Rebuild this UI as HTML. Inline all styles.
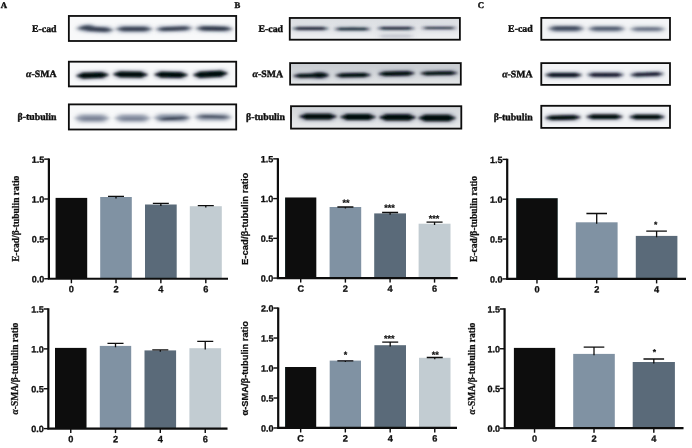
<!DOCTYPE html>
<html><head><meta charset="utf-8"><title>Figure</title>
<style>
html,body{margin:0;padding:0;background:#fff;}
body{width:692px;height:448px;overflow:hidden;}
svg{display:block;}
</style></head><body>
<svg width="692" height="448" viewBox="0 0 692 448">
<defs>
<linearGradient id="gB1" x1="0" y1="0" x2="0" y2="1"><stop offset="0" stop-color="#dadde1"/><stop offset="1" stop-color="#eff0f2"/></linearGradient>
<linearGradient id="gB2" x1="0" y1="0" x2="0" y2="1"><stop offset="0" stop-color="#c6cacf"/><stop offset="1" stop-color="#e4e6e8"/></linearGradient>
<linearGradient id="gB3" x1="0" y1="0" x2="0" y2="1"><stop offset="0" stop-color="#d2d5d9"/><stop offset="1" stop-color="#e8eaec"/></linearGradient>
<filter id="b08" x="-20%" y="-200%" width="140%" height="500%"><feGaussianBlur stdDeviation="1.3 0.65"/></filter>
<filter id="b10" x="-20%" y="-200%" width="140%" height="500%"><feGaussianBlur stdDeviation="1.6 0.9"/></filter>
<filter id="b12" x="-20%" y="-200%" width="140%" height="500%"><feGaussianBlur stdDeviation="1.8 1.1"/></filter>
<filter id="b15" x="-20%" y="-200%" width="140%" height="500%"><feGaussianBlur stdDeviation="2.0 1.3"/></filter>
<filter id="halo" x="-20%" y="-300%" width="140%" height="700%"><feGaussianBlur stdDeviation="2.6 1.8"/></filter>
<filter id="soft"><feGaussianBlur stdDeviation="0.35"/></filter>
</defs>
<rect width="692" height="448" fill="#fff"/>
<g filter="url(#soft)">
<text transform="translate(0.8 8.1) rotate(0.3)" font-family='"Liberation Serif", serif' font-weight="bold" font-size="8.7" text-anchor="start" fill="#111" stroke="#111" stroke-width="0.4">A</text>
<text transform="translate(234.5 8.1) rotate(0.3)" font-family='"Liberation Serif", serif' font-weight="bold" font-size="8.7" text-anchor="start" fill="#111" stroke="#111" stroke-width="0.4">B</text>
<text transform="translate(477.8 8.1) rotate(0.3)" font-family='"Liberation Serif", serif' font-weight="bold" font-size="8.7" text-anchor="start" fill="#111" stroke="#111" stroke-width="0.4">C</text>
<clipPath id="c68_15"><rect x="68.85" y="15.95" width="167.35" height="25.05"/></clipPath>
<rect x="68.85" y="15.95" width="167.35" height="25.05" fill="#f8f9fa"/>
<g clip-path="url(#c68_15)">

<g filter="url(#halo)">
<rect x="82.5" y="25.25" width="30" height="8.1" rx="4.05" fill="#6a7690" opacity="0.40" transform="rotate(3 97.5 29.3)"/>
<rect x="77.5" y="23.85" width="16" height="7.5" rx="3.75" fill="#6a7690" opacity="0.36" transform="rotate(-8 85.5 27.6)"/>
<rect x="116.5" y="24.85" width="35" height="8.3" rx="4.15" fill="#6a7690" opacity="0.40"/>
<rect x="156.5" y="24.849999999999998" width="35" height="7.7" rx="3.85" fill="#6a7690" opacity="0.40" transform="rotate(-2 174.0 28.7)"/>
<rect x="196.5" y="24.650000000000002" width="35" height="7.9" rx="3.95" fill="#6a7690" opacity="0.41" transform="rotate(1 214.0 28.6)"/>
</g>
<g filter="url(#b15)">
<ellipse cx="97.5" cy="29.3" rx="15.00" ry="1.84" fill="#3a4354" opacity="0.88" transform="rotate(3 97.5 29.3)"/>
<rect x="86.5" y="27.14" width="22" height="4.32" rx="2.16" fill="#3a4354" opacity="0.88" transform="rotate(3 97.5 29.3)"/>
<ellipse cx="85.5" cy="27.6" rx="8.00" ry="1.60" fill="#3a4354" opacity="0.8" transform="rotate(-8 85.5 27.6)"/>
<rect x="81.5" y="25.72" width="8" height="3.76" rx="1.88" fill="#3a4354" opacity="0.8" transform="rotate(-8 85.5 27.6)"/>
<ellipse cx="134.0" cy="29.0" rx="17.50" ry="1.92" fill="#3a4354" opacity="0.88"/>
<rect x="120.5" y="26.74" width="27" height="4.51" rx="2.26" fill="#3a4354" opacity="0.88"/>
<ellipse cx="174.0" cy="28.7" rx="17.50" ry="1.68" fill="#3a4354" opacity="0.88" transform="rotate(-2 174.0 28.7)"/>
<rect x="160.5" y="26.73" width="27" height="3.95" rx="1.97" fill="#3a4354" opacity="0.88" transform="rotate(-2 174.0 28.7)"/>
<ellipse cx="214.0" cy="28.6" rx="17.50" ry="1.76" fill="#343c4c" opacity="0.92" transform="rotate(1 214.0 28.6)"/>
<rect x="200.5" y="26.53" width="27" height="4.14" rx="2.07" fill="#343c4c" opacity="0.92" transform="rotate(1 214.0 28.6)"/>
</g></g>
<rect x="68.85" y="15.95" width="167.35" height="25.05" fill="none" stroke="#0a0a0a" stroke-width="1.8"/>
<clipPath id="c68_61"><rect x="68.85" y="61.7" width="167.35" height="24.700000000000003"/></clipPath>
<rect x="68.85" y="61.7" width="167.35" height="24.700000000000003" fill="#f8f9fa"/>
<g clip-path="url(#c68_61)">

<g filter="url(#halo)">
<rect x="76.5" y="70.55" width="32" height="9.5" rx="4.75" fill="#6a7690" opacity="0.45" transform="rotate(-2 92.5 75.3)"/>
<rect x="113.5" y="69.65" width="34" height="9.7" rx="4.85" fill="#6a7690" opacity="0.45" transform="rotate(1 130.5 74.5)"/>
<rect x="154.5" y="70.05" width="33" height="9.5" rx="4.75" fill="#6a7690" opacity="0.45" transform="rotate(1 171.0 74.8)"/>
<rect x="193.5" y="69.25" width="34" height="9.9" rx="4.95" fill="#6a7690" opacity="0.45" transform="rotate(-3 210.5 74.2)"/>
</g>
<g filter="url(#b12)">
<ellipse cx="92.5" cy="75.3" rx="16.00" ry="2.40" fill="#05080c" opacity="1" transform="rotate(-2 92.5 75.3)"/>
<rect x="80.5" y="72.48" width="24" height="5.64" rx="2.82" fill="#05080c" opacity="1" transform="rotate(-2 92.5 75.3)"/>
<ellipse cx="130.5" cy="74.5" rx="17.00" ry="2.48" fill="#05080c" opacity="1" transform="rotate(1 130.5 74.5)"/>
<rect x="117.5" y="71.59" width="26" height="5.83" rx="2.91" fill="#05080c" opacity="1" transform="rotate(1 130.5 74.5)"/>
<ellipse cx="171.0" cy="74.8" rx="16.50" ry="2.40" fill="#05080c" opacity="1" transform="rotate(1 171.0 74.8)"/>
<rect x="158.5" y="71.98" width="25" height="5.64" rx="2.82" fill="#05080c" opacity="1" transform="rotate(1 171.0 74.8)"/>
<ellipse cx="210.5" cy="74.2" rx="17.00" ry="2.56" fill="#05080c" opacity="1" transform="rotate(-3 210.5 74.2)"/>
<rect x="197.5" y="71.19" width="26" height="6.02" rx="3.01" fill="#05080c" opacity="1" transform="rotate(-3 210.5 74.2)"/>
</g></g>
<rect x="68.85" y="61.7" width="167.35" height="24.700000000000003" fill="none" stroke="#0a0a0a" stroke-width="1.8"/>
<clipPath id="c68_104"><rect x="68.85" y="104.4" width="167.35" height="25.099999999999994"/></clipPath>
<rect x="68.85" y="104.4" width="167.35" height="25.099999999999994" fill="#f8f9fa"/>
<g clip-path="url(#c68_104)">

<g filter="url(#halo)">
<rect x="75.5" y="112.95" width="33" height="10.5" rx="5.25" fill="#8a93a4" opacity="0.34"/>
<rect x="115.5" y="113.15" width="34" height="10.1" rx="5.05" fill="#8a93a4" opacity="0.34"/>
<rect x="154.5" y="112.85" width="35" height="9.9" rx="4.95" fill="#8a93a4" opacity="0.34"/>
<rect x="195.5" y="112.45" width="35" height="9.5" rx="4.75" fill="#8a93a4" opacity="0.32"/>
<rect x="78.5" y="115.75" width="28" height="5.7" rx="2.85" fill="#8a93a4" opacity="0.22"/>
<rect x="118.5" y="115.95" width="29" height="5.7" rx="2.85" fill="#8a93a4" opacity="0.22"/>
<rect x="158.5" y="115.35000000000001" width="30" height="6.1" rx="3.05" fill="#8a93a4" opacity="0.36" transform="rotate(-3 173.5 118.4)"/>
<rect x="197.5" y="113.85" width="32" height="5.9" rx="2.95" fill="#8a93a4" opacity="0.34" transform="rotate(1.5 213.5 116.8)"/>
</g>
<g filter="url(#b15)">
<ellipse cx="92.0" cy="118.2" rx="16.50" ry="2.80" fill="#959eae" opacity="0.85"/>
<rect x="79.5" y="114.91" width="25" height="6.58" rx="3.29" fill="#959eae" opacity="0.85"/>
<ellipse cx="132.5" cy="118.2" rx="17.00" ry="2.64" fill="#959eae" opacity="0.85"/>
<rect x="119.5" y="115.10" width="26" height="6.20" rx="3.10" fill="#959eae" opacity="0.85"/>
<ellipse cx="172.0" cy="117.8" rx="17.50" ry="2.56" fill="#8a94a6" opacity="0.85"/>
<rect x="158.5" y="114.79" width="27" height="6.02" rx="3.01" fill="#8a94a6" opacity="0.85"/>
<ellipse cx="213.0" cy="117.2" rx="17.50" ry="2.40" fill="#959eae" opacity="0.8"/>
<rect x="199.5" y="114.38" width="27" height="5.64" rx="2.82" fill="#959eae" opacity="0.8"/>
<ellipse cx="92.5" cy="118.6" rx="14.00" ry="0.88" fill="#667084" opacity="0.55"/>
<rect x="82.5" y="117.57" width="20" height="2.07" rx="1.03" fill="#667084" opacity="0.55"/>
<ellipse cx="133.0" cy="118.8" rx="14.50" ry="0.88" fill="#667084" opacity="0.55"/>
<rect x="122.5" y="117.77" width="21" height="2.07" rx="1.03" fill="#667084" opacity="0.55"/>
<ellipse cx="173.5" cy="118.4" rx="15.00" ry="1.04" fill="#2a3446" opacity="0.9" transform="rotate(-3 173.5 118.4)"/>
<rect x="162.5" y="117.18" width="22" height="2.44" rx="1.22" fill="#2a3446" opacity="0.9" transform="rotate(-3 173.5 118.4)"/>
<ellipse cx="213.5" cy="116.8" rx="16.00" ry="0.96" fill="#343e50" opacity="0.85" transform="rotate(1.5 213.5 116.8)"/>
<rect x="201.5" y="115.67" width="24" height="2.26" rx="1.13" fill="#343e50" opacity="0.85" transform="rotate(1.5 213.5 116.8)"/>
</g></g>
<rect x="68.85" y="104.4" width="167.35" height="25.099999999999994" fill="none" stroke="#0a0a0a" stroke-width="1.8"/>
<text transform="translate(56.5 32) rotate(0.3)" font-family='"Liberation Serif", serif' font-weight="bold" font-size="9.8" text-anchor="end" fill="#111" stroke="#111" stroke-width="0.4">E-cad</text>
<text transform="translate(56.5 77.1) rotate(0.3)" font-family='"Liberation Serif", serif' font-weight="bold" font-size="9.8" text-anchor="end" fill="#111" stroke="#111" stroke-width="0.4"><tspan font-style="italic">α</tspan>-SMA</text>
<text transform="translate(56.5 120) rotate(0.3)" font-family='"Liberation Serif", serif' font-weight="bold" font-size="9.8" text-anchor="end" fill="#111" stroke="#111" stroke-width="0.4">β-tubulin</text>
<clipPath id="c289_17"><rect x="289.75" y="17.95" width="170.14999999999998" height="21.750000000000004"/></clipPath>
<rect x="289.75" y="17.95" width="170.14999999999998" height="21.750000000000004" fill="url(#gB1)"/>
<g clip-path="url(#c289_17)">

<g filter="url(#halo)">
<rect x="292.5" y="25.4" width="36" height="6.2" rx="3.1" fill="#6a7690" opacity="0.30"/>
<rect x="334.5" y="25.799999999999997" width="36" height="6.2" rx="3.1" fill="#6a7690" opacity="0.29"/>
<rect x="377.5" y="25.15" width="37" height="6.1" rx="3.05" fill="#6a7690" opacity="0.28"/>
<rect x="421.5" y="25.1" width="35" height="5.8" rx="2.9" fill="#6a7690" opacity="0.23"/>
<rect x="377.5" y="32.45" width="37" height="7.5" rx="3.75" fill="#6a7690" opacity="0.05"/>
</g>
<g filter="url(#b10)">
<ellipse cx="310.5" cy="28.5" rx="18.00" ry="1.08" fill="#1a2232" opacity="1"/>
<rect x="296.5" y="27.23" width="28" height="2.54" rx="1.27" fill="#1a2232" opacity="1"/>
<ellipse cx="352.5" cy="28.9" rx="18.00" ry="1.08" fill="#1a2232" opacity="0.97"/>
<rect x="338.5" y="27.63" width="28" height="2.54" rx="1.27" fill="#1a2232" opacity="0.97"/>
<ellipse cx="396.0" cy="28.2" rx="18.50" ry="1.04" fill="#1a2232" opacity="0.92"/>
<rect x="381.5" y="26.98" width="29" height="2.44" rx="1.22" fill="#1a2232" opacity="0.92"/>
<ellipse cx="439.0" cy="28.0" rx="17.50" ry="0.92" fill="#1a2232" opacity="0.78"/>
<rect x="425.5" y="26.92" width="27" height="2.16" rx="1.08" fill="#1a2232" opacity="0.78"/>
<ellipse cx="396.0" cy="36.2" rx="18.50" ry="1.60" fill="#7a8298" opacity="0.16"/>
<rect x="381.5" y="34.32" width="29" height="3.76" rx="1.88" fill="#7a8298" opacity="0.16"/>
</g></g>
<rect x="289.75" y="17.95" width="170.14999999999998" height="21.750000000000004" fill="none" stroke="#0a0a0a" stroke-width="1.8"/>
<clipPath id="c290_63"><rect x="290.1" y="63.1" width="170.7" height="21.499999999999993"/></clipPath>
<rect x="290.1" y="63.1" width="170.7" height="21.499999999999993" fill="url(#gB2)"/>
<g clip-path="url(#c290_63)">

<g filter="url(#halo)">
<rect x="293.5" y="71.94999999999999" width="35" height="7.3" rx="3.65" fill="#6a7690" opacity="0.45" transform="rotate(-1 311.0 75.6)"/>
<rect x="335.5" y="71.45" width="35" height="7.5" rx="3.75" fill="#6a7690" opacity="0.45" transform="rotate(-1 353.0 75.2)"/>
<rect x="378.5" y="69.55" width="36" height="8.1" rx="4.05" fill="#6a7690" opacity="0.45" transform="rotate(-1 396.5 73.6)"/>
<rect x="420.5" y="69.55" width="37" height="7.3" rx="3.65" fill="#6a7690" opacity="0.45" transform="rotate(-1 439.0 73.2)"/>
<rect x="310.5" y="70.95" width="18" height="8.5" rx="4.25" fill="#6a7690" opacity="0.45"/>
</g>
<g filter="url(#b10)">
<ellipse cx="311.0" cy="75.6" rx="17.50" ry="1.52" fill="#05080c" opacity="1" transform="rotate(-1 311.0 75.6)"/>
<rect x="297.5" y="73.81" width="27" height="3.57" rx="1.79" fill="#05080c" opacity="1" transform="rotate(-1 311.0 75.6)"/>
<ellipse cx="353.0" cy="75.2" rx="17.50" ry="1.60" fill="#05080c" opacity="1" transform="rotate(-1 353.0 75.2)"/>
<rect x="339.5" y="73.32" width="27" height="3.76" rx="1.88" fill="#05080c" opacity="1" transform="rotate(-1 353.0 75.2)"/>
<ellipse cx="396.5" cy="73.6" rx="18.00" ry="1.84" fill="#05080c" opacity="1" transform="rotate(-1 396.5 73.6)"/>
<rect x="382.5" y="71.44" width="28" height="4.32" rx="2.16" fill="#05080c" opacity="1" transform="rotate(-1 396.5 73.6)"/>
<ellipse cx="439.0" cy="73.2" rx="18.50" ry="1.52" fill="#05080c" opacity="1" transform="rotate(-1 439.0 73.2)"/>
<rect x="424.5" y="71.41" width="29" height="3.57" rx="1.79" fill="#05080c" opacity="1" transform="rotate(-1 439.0 73.2)"/>
<ellipse cx="319.5" cy="75.2" rx="9.00" ry="2.00" fill="#05080c" opacity="1"/>
<rect x="314.5" y="72.85" width="10" height="4.70" rx="2.35" fill="#05080c" opacity="1"/>
</g></g>
<rect x="290.1" y="63.1" width="170.7" height="21.499999999999993" fill="none" stroke="#0a0a0a" stroke-width="1.8"/>
<clipPath id="c291_106"><rect x="291.0" y="106.2" width="170.3" height="22.39999999999999"/></clipPath>
<rect x="291.0" y="106.2" width="170.3" height="22.39999999999999" fill="url(#gB3)"/>
<g clip-path="url(#c291_106)">

<g filter="url(#halo)">
<rect x="299.5" y="111.75" width="37" height="9.7" rx="4.85" fill="#6a7690" opacity="0.45"/>
<rect x="340.5" y="112.15" width="35" height="9.7" rx="4.85" fill="#6a7690" opacity="0.45"/>
<rect x="379.5" y="112.35000000000001" width="36" height="10.1" rx="5.05" fill="#6a7690" opacity="0.45"/>
<rect x="418.5" y="112.75" width="37" height="10.5" rx="5.25" fill="#6a7690" opacity="0.45"/>
</g>
<g filter="url(#b10)">
<ellipse cx="318.0" cy="116.6" rx="18.50" ry="2.48" fill="#05080c" opacity="1"/>
<rect x="303.5" y="113.69" width="29" height="5.83" rx="2.91" fill="#05080c" opacity="1"/>
<ellipse cx="358.0" cy="117.0" rx="17.50" ry="2.48" fill="#05080c" opacity="1"/>
<rect x="344.5" y="114.09" width="27" height="5.83" rx="2.91" fill="#05080c" opacity="1"/>
<ellipse cx="397.5" cy="117.4" rx="18.00" ry="2.64" fill="#05080c" opacity="1"/>
<rect x="383.5" y="114.30" width="28" height="6.20" rx="3.10" fill="#05080c" opacity="1"/>
<ellipse cx="437.0" cy="118.0" rx="18.50" ry="2.80" fill="#05080c" opacity="1"/>
<rect x="422.5" y="114.71" width="29" height="6.58" rx="3.29" fill="#05080c" opacity="1"/>
</g></g>
<rect x="291.0" y="106.2" width="170.3" height="22.39999999999999" fill="none" stroke="#0a0a0a" stroke-width="1.8"/>
<text transform="translate(283 32) rotate(0.3)" font-family='"Liberation Serif", serif' font-weight="bold" font-size="9.8" text-anchor="end" fill="#111" stroke="#111" stroke-width="0.4">E-cad</text>
<text transform="translate(283 77.2) rotate(0.3)" font-family='"Liberation Serif", serif' font-weight="bold" font-size="9.8" text-anchor="end" fill="#111" stroke="#111" stroke-width="0.4"><tspan font-style="italic">α</tspan>-SMA</text>
<text transform="translate(285 120.1) rotate(0.3)" font-family='"Liberation Serif", serif' font-weight="bold" font-size="9.8" text-anchor="end" fill="#111" stroke="#111" stroke-width="0.4">β-tubulin</text>
<clipPath id="c541_17"><rect x="541.3" y="17.9" width="128.70000000000005" height="21.9"/></clipPath>
<rect x="541.3" y="17.9" width="128.70000000000005" height="21.9" fill="#f3f4f6"/>
<g clip-path="url(#c541_17)">

<g filter="url(#halo)">
<rect x="548.5" y="24.55" width="35" height="8.5" rx="4.25" fill="#7a8498" opacity="0.30"/>
<rect x="588.5" y="24.95" width="36" height="8.1" rx="4.05" fill="#7a8498" opacity="0.28"/>
<rect x="630.5" y="25.349999999999998" width="34" height="7.7" rx="3.85" fill="#7a8498" opacity="0.24"/>
<rect x="549.5" y="24.95" width="33" height="5.7" rx="2.85" fill="#7a8498" opacity="0.26"/>
<rect x="589.5" y="25.35" width="34" height="5.5" rx="2.75" fill="#7a8498" opacity="0.18"/>
<rect x="631.5" y="25.85" width="32" height="5.3" rx="2.65" fill="#7a8498" opacity="0.12"/>
</g>
<g filter="url(#b15)">
<ellipse cx="566.0" cy="28.8" rx="17.50" ry="2.00" fill="#566074" opacity="0.75"/>
<rect x="552.5" y="26.45" width="27" height="4.70" rx="2.35" fill="#566074" opacity="0.75"/>
<ellipse cx="606.5" cy="29.0" rx="18.00" ry="1.84" fill="#626c80" opacity="0.7"/>
<rect x="592.5" y="26.84" width="28" height="4.32" rx="2.16" fill="#626c80" opacity="0.7"/>
<ellipse cx="647.5" cy="29.2" rx="17.00" ry="1.68" fill="#6e788c" opacity="0.6"/>
<rect x="634.5" y="27.23" width="26" height="3.95" rx="1.97" fill="#6e788c" opacity="0.6"/>
<ellipse cx="566.0" cy="27.8" rx="16.50" ry="0.88" fill="#2a3244" opacity="0.65"/>
<rect x="553.5" y="26.77" width="25" height="2.07" rx="1.03" fill="#2a3244" opacity="0.65"/>
<ellipse cx="606.5" cy="28.1" rx="17.00" ry="0.80" fill="#343c50" opacity="0.45"/>
<rect x="593.5" y="27.16" width="26" height="1.88" rx="0.94" fill="#343c50" opacity="0.45"/>
<ellipse cx="647.5" cy="28.5" rx="16.00" ry="0.72" fill="#444c60" opacity="0.3"/>
<rect x="635.5" y="27.65" width="24" height="1.69" rx="0.85" fill="#444c60" opacity="0.3"/>
</g></g>
<rect x="541.3" y="17.9" width="128.70000000000005" height="21.9" fill="none" stroke="#0a0a0a" stroke-width="1.8"/>
<clipPath id="c541_63"><rect x="541.3" y="63.1" width="128.70000000000005" height="21.800000000000004"/></clipPath>
<rect x="541.3" y="63.1" width="128.70000000000005" height="21.800000000000004" fill="#f3f4f6"/>
<g clip-path="url(#c541_63)">

<g filter="url(#halo)">
<rect x="545.5" y="71.15" width="36" height="7.7" rx="3.85" fill="#6a7690" opacity="0.45"/>
<rect x="587.5" y="71.05" width="36" height="7.5" rx="3.75" fill="#6a7690" opacity="0.43"/>
<rect x="630.5" y="70.85000000000001" width="33" height="7.1" rx="3.55" fill="#6a7690" opacity="0.43" transform="rotate(-2 647.0 74.4)"/>
</g>
<g filter="url(#b12)">
<ellipse cx="563.5" cy="75.0" rx="18.00" ry="1.68" fill="#101520" opacity="1"/>
<rect x="549.5" y="73.03" width="28" height="3.95" rx="1.97" fill="#101520" opacity="1"/>
<ellipse cx="605.5" cy="74.8" rx="18.00" ry="1.60" fill="#1a2030" opacity="0.95"/>
<rect x="591.5" y="72.92" width="28" height="3.76" rx="1.88" fill="#1a2030" opacity="0.95"/>
<ellipse cx="647.0" cy="74.4" rx="16.50" ry="1.44" fill="#1a2030" opacity="0.95" transform="rotate(-2 647.0 74.4)"/>
<rect x="634.5" y="72.71" width="25" height="3.38" rx="1.69" fill="#1a2030" opacity="0.95" transform="rotate(-2 647.0 74.4)"/>
</g></g>
<rect x="541.3" y="63.1" width="128.70000000000005" height="21.800000000000004" fill="none" stroke="#0a0a0a" stroke-width="1.8"/>
<clipPath id="c541_105"><rect x="541.3" y="105.8" width="128.70000000000005" height="22.10000000000001"/></clipPath>
<rect x="541.3" y="105.8" width="128.70000000000005" height="22.10000000000001" fill="#f3f4f6"/>
<g clip-path="url(#c541_105)">

<g filter="url(#halo)">
<rect x="545.5" y="113.55" width="35" height="8.1" rx="4.05" fill="#6a7690" opacity="0.45" transform="rotate(-1 563.0 117.6)"/>
<rect x="586.5" y="112.64999999999999" width="36" height="8.3" rx="4.15" fill="#6a7690" opacity="0.45"/>
<rect x="629.5" y="112.95" width="35" height="8.1" rx="4.05" fill="#6a7690" opacity="0.45"/>
</g>
<g filter="url(#b12)">
<ellipse cx="563.0" cy="117.6" rx="17.50" ry="1.84" fill="#05080c" opacity="1" transform="rotate(-1 563.0 117.6)"/>
<rect x="549.5" y="115.44" width="27" height="4.32" rx="2.16" fill="#05080c" opacity="1" transform="rotate(-1 563.0 117.6)"/>
<ellipse cx="604.5" cy="116.8" rx="18.00" ry="1.92" fill="#05080c" opacity="1"/>
<rect x="590.5" y="114.54" width="28" height="4.51" rx="2.26" fill="#05080c" opacity="1"/>
<ellipse cx="647.0" cy="117.0" rx="17.50" ry="1.84" fill="#05080c" opacity="1"/>
<rect x="633.5" y="114.84" width="27" height="4.32" rx="2.16" fill="#05080c" opacity="1"/>
</g></g>
<rect x="541.3" y="105.8" width="128.70000000000005" height="22.10000000000001" fill="none" stroke="#0a0a0a" stroke-width="1.8"/>
<text transform="translate(532.6 31.8) rotate(0.3)" font-family='"Liberation Serif", serif' font-weight="bold" font-size="9.8" text-anchor="end" fill="#111" stroke="#111" stroke-width="0.4">E-cad</text>
<text transform="translate(532.6 77.3) rotate(0.3)" font-family='"Liberation Serif", serif' font-weight="bold" font-size="9.8" text-anchor="end" fill="#111" stroke="#111" stroke-width="0.4"><tspan font-style="italic">α</tspan>-SMA</text>
<text transform="translate(532.6 120.3) rotate(0.3)" font-family='"Liberation Serif", serif' font-weight="bold" font-size="9.8" text-anchor="end" fill="#111" stroke="#111" stroke-width="0.4">β-tubulin</text>
<rect x="55.6" y="197.90" width="31.60" height="80.85" fill="#070c0c"/>
<rect x="100.2" y="197.00" width="31.60" height="81.75" fill="#8092a3"/>
<path d="M116.00 198.40V196.45M108.00 196.45H124.00" stroke="#0c0c0c" stroke-width="1.3" fill="none"/>
<rect x="145" y="204.50" width="31.70" height="74.25" fill="#5a6b79"/>
<path d="M160.85 205.90V203.35M152.85 203.35H168.85" stroke="#0c0c0c" stroke-width="1.3" fill="none"/>
<rect x="189.8" y="206.20" width="32.00" height="72.55" fill="#c2ccd2"/>
<path d="M205.80 207.60V205.70M197.80 205.70H213.80" stroke="#0c0c0c" stroke-width="1.3" fill="none"/>
<path d="M48.9 158.45V279.75M47.80 278.75H228" stroke="#0a0a0a" stroke-width="2.2" fill="none"/>
<path d="M44.20 278.75H48.9" stroke="#0a0a0a" stroke-width="1.4"/>
<text transform="translate(44.30 282.30) rotate(0.3)" font-family='"Liberation Sans", sans-serif' font-weight="bold" font-size="9.0" text-anchor="end" fill="#111" stroke="#111" stroke-width="0.3">0.0</text>
<path d="M44.20 238.88H48.9" stroke="#0a0a0a" stroke-width="1.4"/>
<text transform="translate(44.30 242.43) rotate(0.3)" font-family='"Liberation Sans", sans-serif' font-weight="bold" font-size="9.0" text-anchor="end" fill="#111" stroke="#111" stroke-width="0.3">0.5</text>
<path d="M44.20 199.02H48.9" stroke="#0a0a0a" stroke-width="1.4"/>
<text transform="translate(44.30 202.57) rotate(0.3)" font-family='"Liberation Sans", sans-serif' font-weight="bold" font-size="9.0" text-anchor="end" fill="#111" stroke="#111" stroke-width="0.3">1.0</text>
<path d="M44.20 159.15H48.9" stroke="#0a0a0a" stroke-width="1.4"/>
<text transform="translate(44.30 162.70) rotate(0.3)" font-family='"Liberation Sans", sans-serif' font-weight="bold" font-size="9.0" text-anchor="end" fill="#111" stroke="#111" stroke-width="0.3">1.5</text>
<path d="M71.40 278.75V283.25" stroke="#0a0a0a" stroke-width="1.4"/>
<text transform="translate(71.40 292.30) rotate(0.3)" font-family='"Liberation Sans", sans-serif' font-weight="bold" font-size="9.2" text-anchor="middle" fill="#111" stroke="#111" stroke-width="0.3">0</text>
<path d="M116.00 278.75V283.25" stroke="#0a0a0a" stroke-width="1.4"/>
<text transform="translate(116.00 292.30) rotate(0.3)" font-family='"Liberation Sans", sans-serif' font-weight="bold" font-size="9.2" text-anchor="middle" fill="#111" stroke="#111" stroke-width="0.3">2</text>
<path d="M160.85 278.75V283.25" stroke="#0a0a0a" stroke-width="1.4"/>
<text transform="translate(160.85 292.30) rotate(0.3)" font-family='"Liberation Sans", sans-serif' font-weight="bold" font-size="9.2" text-anchor="middle" fill="#111" stroke="#111" stroke-width="0.3">4</text>
<path d="M205.80 278.75V283.25" stroke="#0a0a0a" stroke-width="1.4"/>
<text transform="translate(205.80 292.30) rotate(0.3)" font-family='"Liberation Sans", sans-serif' font-weight="bold" font-size="9.2" text-anchor="middle" fill="#111" stroke="#111" stroke-width="0.3">6</text>
<text transform="translate(18.9 218.7) rotate(-90)" font-family='"Liberation Serif", serif' font-weight="bold" font-size="9.5" text-anchor="middle" fill="#111" stroke="#111" stroke-width="0.25">E-cad/β-tubulin ratio</text>
<rect x="55.0" y="347.90" width="31.50" height="80.70" fill="#070c0c"/>
<rect x="99.8" y="345.90" width="31.40" height="82.70" fill="#8092a3"/>
<path d="M115.50 347.30V343.40M107.50 343.40H123.50" stroke="#0c0c0c" stroke-width="1.3" fill="none"/>
<rect x="144.5" y="350.40" width="31.60" height="78.20" fill="#5a6b79"/>
<path d="M160.30 351.80V349.80M152.30 349.80H168.30" stroke="#0c0c0c" stroke-width="1.3" fill="none"/>
<rect x="189.4" y="348.20" width="31.70" height="80.40" fill="#c2ccd2"/>
<path d="M205.25 349.60V341.40M197.25 341.40H213.25" stroke="#0c0c0c" stroke-width="1.3" fill="none"/>
<path d="M48.3 308.30V429.60M47.20 428.6H227.5" stroke="#0a0a0a" stroke-width="2.2" fill="none"/>
<path d="M43.60 428.60H48.3" stroke="#0a0a0a" stroke-width="1.4"/>
<text transform="translate(43.70 432.15) rotate(0.3)" font-family='"Liberation Sans", sans-serif' font-weight="bold" font-size="9.0" text-anchor="end" fill="#111" stroke="#111" stroke-width="0.3">0.0</text>
<path d="M43.60 388.73H48.3" stroke="#0a0a0a" stroke-width="1.4"/>
<text transform="translate(43.70 392.28) rotate(0.3)" font-family='"Liberation Sans", sans-serif' font-weight="bold" font-size="9.0" text-anchor="end" fill="#111" stroke="#111" stroke-width="0.3">0.5</text>
<path d="M43.60 348.87H48.3" stroke="#0a0a0a" stroke-width="1.4"/>
<text transform="translate(43.70 352.42) rotate(0.3)" font-family='"Liberation Sans", sans-serif' font-weight="bold" font-size="9.0" text-anchor="end" fill="#111" stroke="#111" stroke-width="0.3">1.0</text>
<path d="M43.60 309.00H48.3" stroke="#0a0a0a" stroke-width="1.4"/>
<text transform="translate(43.70 312.55) rotate(0.3)" font-family='"Liberation Sans", sans-serif' font-weight="bold" font-size="9.0" text-anchor="end" fill="#111" stroke="#111" stroke-width="0.3">1.5</text>
<path d="M70.75 428.6V433.10" stroke="#0a0a0a" stroke-width="1.4"/>
<text transform="translate(70.75 442.15) rotate(0.3)" font-family='"Liberation Sans", sans-serif' font-weight="bold" font-size="9.2" text-anchor="middle" fill="#111" stroke="#111" stroke-width="0.3">0</text>
<path d="M115.50 428.6V433.10" stroke="#0a0a0a" stroke-width="1.4"/>
<text transform="translate(115.50 442.15) rotate(0.3)" font-family='"Liberation Sans", sans-serif' font-weight="bold" font-size="9.2" text-anchor="middle" fill="#111" stroke="#111" stroke-width="0.3">2</text>
<path d="M160.30 428.6V433.10" stroke="#0a0a0a" stroke-width="1.4"/>
<text transform="translate(160.30 442.15) rotate(0.3)" font-family='"Liberation Sans", sans-serif' font-weight="bold" font-size="9.2" text-anchor="middle" fill="#111" stroke="#111" stroke-width="0.3">4</text>
<path d="M205.25 428.6V433.10" stroke="#0a0a0a" stroke-width="1.4"/>
<text transform="translate(205.25 442.15) rotate(0.3)" font-family='"Liberation Sans", sans-serif' font-weight="bold" font-size="9.2" text-anchor="middle" fill="#111" stroke="#111" stroke-width="0.3">6</text>
<text transform="translate(18.1 368.6) rotate(-90)" font-family='"Liberation Serif", serif' font-weight="bold" font-size="9.5" text-anchor="middle" fill="#111" stroke="#111" stroke-width="0.25"><tspan font-style="italic">α</tspan>-SMA/β-tubulin ratio</text>
<rect x="285.1" y="197.50" width="31.20" height="80.60" fill="#070c0c"/>
<rect x="329.6" y="207.00" width="31.60" height="71.10" fill="#8092a3"/>
<path d="M345.40 208.40V207.00M337.40 207.00H353.40" stroke="#0c0c0c" stroke-width="1.3" fill="none"/>
<rect x="374.2" y="213.40" width="31.80" height="64.70" fill="#5a6b79"/>
<path d="M390.10 214.80V212.50M382.10 212.50H398.10" stroke="#0c0c0c" stroke-width="1.3" fill="none"/>
<rect x="418.6" y="223.70" width="31.90" height="54.40" fill="#c2ccd2"/>
<path d="M434.55 225.10V222.20M426.55 222.20H442.55" stroke="#0c0c0c" stroke-width="1.3" fill="none"/>
<path d="M277.9 158.15V279.10M276.80 278.1H457.7" stroke="#0a0a0a" stroke-width="2.2" fill="none"/>
<path d="M273.20 278.10H277.9" stroke="#0a0a0a" stroke-width="1.4"/>
<text transform="translate(273.30 281.65) rotate(0.3)" font-family='"Liberation Sans", sans-serif' font-weight="bold" font-size="9.0" text-anchor="end" fill="#111" stroke="#111" stroke-width="0.3">0.0</text>
<path d="M273.20 238.35H277.9" stroke="#0a0a0a" stroke-width="1.4"/>
<text transform="translate(273.30 241.90) rotate(0.3)" font-family='"Liberation Sans", sans-serif' font-weight="bold" font-size="9.0" text-anchor="end" fill="#111" stroke="#111" stroke-width="0.3">0.5</text>
<path d="M273.20 198.60H277.9" stroke="#0a0a0a" stroke-width="1.4"/>
<text transform="translate(273.30 202.15) rotate(0.3)" font-family='"Liberation Sans", sans-serif' font-weight="bold" font-size="9.0" text-anchor="end" fill="#111" stroke="#111" stroke-width="0.3">1.0</text>
<path d="M273.20 158.85H277.9" stroke="#0a0a0a" stroke-width="1.4"/>
<text transform="translate(273.30 162.40) rotate(0.3)" font-family='"Liberation Sans", sans-serif' font-weight="bold" font-size="9.0" text-anchor="end" fill="#111" stroke="#111" stroke-width="0.3">1.5</text>
<path d="M300.70 278.1V282.60" stroke="#0a0a0a" stroke-width="1.4"/>
<text transform="translate(300.70 291.65) rotate(0.3)" font-family='"Liberation Sans", sans-serif' font-weight="bold" font-size="9.2" text-anchor="middle" fill="#111" stroke="#111" stroke-width="0.3">C</text>
<path d="M345.40 278.1V282.60" stroke="#0a0a0a" stroke-width="1.4"/>
<text transform="translate(345.40 291.65) rotate(0.3)" font-family='"Liberation Sans", sans-serif' font-weight="bold" font-size="9.2" text-anchor="middle" fill="#111" stroke="#111" stroke-width="0.3">2</text>
<path d="M390.10 278.1V282.60" stroke="#0a0a0a" stroke-width="1.4"/>
<text transform="translate(390.10 291.65) rotate(0.3)" font-family='"Liberation Sans", sans-serif' font-weight="bold" font-size="9.2" text-anchor="middle" fill="#111" stroke="#111" stroke-width="0.3">4</text>
<path d="M434.55 278.1V282.60" stroke="#0a0a0a" stroke-width="1.4"/>
<text transform="translate(434.55 291.65) rotate(0.3)" font-family='"Liberation Sans", sans-serif' font-weight="bold" font-size="9.2" text-anchor="middle" fill="#111" stroke="#111" stroke-width="0.3">6</text>
<text transform="translate(346 205.70) rotate(0.3)" font-family='"Liberation Sans", sans-serif' font-weight="bold" font-size="9" text-anchor="middle" fill="#111" stroke="#111" stroke-width="0.2">**</text>
<text transform="translate(389.6 210.70) rotate(0.3)" font-family='"Liberation Sans", sans-serif' font-weight="bold" font-size="9" text-anchor="middle" fill="#111" stroke="#111" stroke-width="0.2">***</text>
<text transform="translate(434 221.50) rotate(0.3)" font-family='"Liberation Sans", sans-serif' font-weight="bold" font-size="9" text-anchor="middle" fill="#111" stroke="#111" stroke-width="0.2">***</text>
<text transform="translate(247.5 218.8) rotate(-90)" font-family='"Liberation Sans", sans-serif' font-weight="bold" font-size="9.5" text-anchor="middle" fill="#111" stroke="#111" stroke-width="0.25">E-cad/β-tubulin ratio</text>
<rect x="285.1" y="367.00" width="31.10" height="60.95" fill="#070c0c"/>
<rect x="329.7" y="360.60" width="31.30" height="67.35" fill="#8092a3"/>
<path d="M345.35 362.00V360.90M337.35 360.90H353.35" stroke="#0c0c0c" stroke-width="1.3" fill="none"/>
<rect x="374.4" y="345.20" width="31.60" height="82.75" fill="#5a6b79"/>
<path d="M390.20 346.60V342.20M382.20 342.20H398.20" stroke="#0c0c0c" stroke-width="1.3" fill="none"/>
<rect x="419" y="357.80" width="31.50" height="70.15" fill="#c2ccd2"/>
<path d="M434.75 359.20V357.50M426.75 357.50H442.75" stroke="#0c0c0c" stroke-width="1.3" fill="none"/>
<path d="M278.2 307.40V428.95M277.10 427.95H457" stroke="#0a0a0a" stroke-width="2.2" fill="none"/>
<path d="M273.50 427.95H278.2" stroke="#0a0a0a" stroke-width="1.4"/>
<text transform="translate(273.60 431.50) rotate(0.3)" font-family='"Liberation Sans", sans-serif' font-weight="bold" font-size="9.0" text-anchor="end" fill="#111" stroke="#111" stroke-width="0.3">0.0</text>
<path d="M273.50 397.99H278.2" stroke="#0a0a0a" stroke-width="1.4"/>
<text transform="translate(273.60 401.54) rotate(0.3)" font-family='"Liberation Sans", sans-serif' font-weight="bold" font-size="9.0" text-anchor="end" fill="#111" stroke="#111" stroke-width="0.3">0.5</text>
<path d="M273.50 368.02H278.2" stroke="#0a0a0a" stroke-width="1.4"/>
<text transform="translate(273.60 371.57) rotate(0.3)" font-family='"Liberation Sans", sans-serif' font-weight="bold" font-size="9.0" text-anchor="end" fill="#111" stroke="#111" stroke-width="0.3">1.0</text>
<path d="M273.50 338.06H278.2" stroke="#0a0a0a" stroke-width="1.4"/>
<text transform="translate(273.60 341.61) rotate(0.3)" font-family='"Liberation Sans", sans-serif' font-weight="bold" font-size="9.0" text-anchor="end" fill="#111" stroke="#111" stroke-width="0.3">1.5</text>
<path d="M273.50 308.10H278.2" stroke="#0a0a0a" stroke-width="1.4"/>
<text transform="translate(273.60 311.65) rotate(0.3)" font-family='"Liberation Sans", sans-serif' font-weight="bold" font-size="9.0" text-anchor="end" fill="#111" stroke="#111" stroke-width="0.3">2.0</text>
<path d="M300.65 427.95V432.45" stroke="#0a0a0a" stroke-width="1.4"/>
<text transform="translate(300.65 441.50) rotate(0.3)" font-family='"Liberation Sans", sans-serif' font-weight="bold" font-size="9.2" text-anchor="middle" fill="#111" stroke="#111" stroke-width="0.3">C</text>
<path d="M345.35 427.95V432.45" stroke="#0a0a0a" stroke-width="1.4"/>
<text transform="translate(345.35 441.50) rotate(0.3)" font-family='"Liberation Sans", sans-serif' font-weight="bold" font-size="9.2" text-anchor="middle" fill="#111" stroke="#111" stroke-width="0.3">2</text>
<path d="M390.20 427.95V432.45" stroke="#0a0a0a" stroke-width="1.4"/>
<text transform="translate(390.20 441.50) rotate(0.3)" font-family='"Liberation Sans", sans-serif' font-weight="bold" font-size="9.2" text-anchor="middle" fill="#111" stroke="#111" stroke-width="0.3">4</text>
<path d="M434.75 427.95V432.45" stroke="#0a0a0a" stroke-width="1.4"/>
<text transform="translate(434.75 441.50) rotate(0.3)" font-family='"Liberation Sans", sans-serif' font-weight="bold" font-size="9.2" text-anchor="middle" fill="#111" stroke="#111" stroke-width="0.3">6</text>
<text transform="translate(345.5 357.70) rotate(0.3)" font-family='"Liberation Sans", sans-serif' font-weight="bold" font-size="9" text-anchor="middle" fill="#111" stroke="#111" stroke-width="0.2">*</text>
<text transform="translate(389.2 341.60) rotate(0.3)" font-family='"Liberation Sans", sans-serif' font-weight="bold" font-size="9" text-anchor="middle" fill="#111" stroke="#111" stroke-width="0.2">***</text>
<text transform="translate(435.2 357.70) rotate(0.3)" font-family='"Liberation Sans", sans-serif' font-weight="bold" font-size="9" text-anchor="middle" fill="#111" stroke="#111" stroke-width="0.2">**</text>
<text transform="translate(247.6 368.3) rotate(-90)" font-family='"Liberation Sans", sans-serif' font-weight="bold" font-size="9.3" text-anchor="middle" fill="#111" stroke="#111" stroke-width="0.25">α-SMA/β-tubulin ratio</text>
<rect x="516.2" y="198.20" width="41.50" height="80.70" fill="#070c0c"/>
<rect x="575.8" y="222.30" width="41.80" height="56.60" fill="#8092a3"/>
<path d="M596.70 223.70V213.50M586.40 213.50H607.00" stroke="#0c0c0c" stroke-width="1.3" fill="none"/>
<rect x="635.8" y="235.90" width="41.60" height="43.00" fill="#5a6b79"/>
<path d="M656.60 237.30V231.10M646.30 231.10H666.90" stroke="#0c0c0c" stroke-width="1.3" fill="none"/>
<path d="M507.2 158.70V279.90M506.10 278.9H686" stroke="#0a0a0a" stroke-width="2.2" fill="none"/>
<path d="M502.50 278.90H507.2" stroke="#0a0a0a" stroke-width="1.4"/>
<text transform="translate(502.60 282.45) rotate(0.3)" font-family='"Liberation Sans", sans-serif' font-weight="bold" font-size="9.0" text-anchor="end" fill="#111" stroke="#111" stroke-width="0.3">0.0</text>
<path d="M502.50 239.07H507.2" stroke="#0a0a0a" stroke-width="1.4"/>
<text transform="translate(502.60 242.62) rotate(0.3)" font-family='"Liberation Sans", sans-serif' font-weight="bold" font-size="9.0" text-anchor="end" fill="#111" stroke="#111" stroke-width="0.3">0.5</text>
<path d="M502.50 199.23H507.2" stroke="#0a0a0a" stroke-width="1.4"/>
<text transform="translate(502.60 202.78) rotate(0.3)" font-family='"Liberation Sans", sans-serif' font-weight="bold" font-size="9.0" text-anchor="end" fill="#111" stroke="#111" stroke-width="0.3">1.0</text>
<path d="M502.50 159.40H507.2" stroke="#0a0a0a" stroke-width="1.4"/>
<text transform="translate(502.60 162.95) rotate(0.3)" font-family='"Liberation Sans", sans-serif' font-weight="bold" font-size="9.0" text-anchor="end" fill="#111" stroke="#111" stroke-width="0.3">1.5</text>
<path d="M536.95 278.9V283.40" stroke="#0a0a0a" stroke-width="1.4"/>
<text transform="translate(536.95 292.45) rotate(0.3)" font-family='"Liberation Sans", sans-serif' font-weight="bold" font-size="9.2" text-anchor="middle" fill="#111" stroke="#111" stroke-width="0.3">0</text>
<path d="M596.70 278.9V283.40" stroke="#0a0a0a" stroke-width="1.4"/>
<text transform="translate(596.70 292.45) rotate(0.3)" font-family='"Liberation Sans", sans-serif' font-weight="bold" font-size="9.2" text-anchor="middle" fill="#111" stroke="#111" stroke-width="0.3">2</text>
<path d="M656.60 278.9V283.40" stroke="#0a0a0a" stroke-width="1.4"/>
<text transform="translate(656.60 292.45) rotate(0.3)" font-family='"Liberation Sans", sans-serif' font-weight="bold" font-size="9.2" text-anchor="middle" fill="#111" stroke="#111" stroke-width="0.3">4</text>
<text transform="translate(655.6 227.55) rotate(0.3)" font-family='"Liberation Sans", sans-serif' font-weight="bold" font-size="8.5" text-anchor="middle" fill="#111" stroke="#111" stroke-width="0.2">*</text>
<text transform="translate(476.7 219) rotate(-90)" font-family='"Liberation Serif", serif' font-weight="bold" font-size="9.5" text-anchor="middle" fill="#111" stroke="#111" stroke-width="0.25">E-cad/β-tubulin ratio</text>
<rect x="513.9" y="347.90" width="41.30" height="80.30" fill="#070c0c"/>
<rect x="573.2" y="353.90" width="41.60" height="74.30" fill="#8092a3"/>
<path d="M594.00 355.30V347.10M583.70 347.10H604.30" stroke="#0c0c0c" stroke-width="1.3" fill="none"/>
<rect x="632.7" y="362.00" width="42.20" height="66.20" fill="#5a6b79"/>
<path d="M653.80 363.40V359.00M643.50 359.00H664.10" stroke="#0c0c0c" stroke-width="1.3" fill="none"/>
<path d="M504.6 308.30V429.20M503.50 428.2H683.5" stroke="#0a0a0a" stroke-width="2.2" fill="none"/>
<path d="M499.90 428.20H504.6" stroke="#0a0a0a" stroke-width="1.4"/>
<text transform="translate(500.00 431.75) rotate(0.3)" font-family='"Liberation Sans", sans-serif' font-weight="bold" font-size="9.0" text-anchor="end" fill="#111" stroke="#111" stroke-width="0.3">0.0</text>
<path d="M499.90 388.47H504.6" stroke="#0a0a0a" stroke-width="1.4"/>
<text transform="translate(500.00 392.02) rotate(0.3)" font-family='"Liberation Sans", sans-serif' font-weight="bold" font-size="9.0" text-anchor="end" fill="#111" stroke="#111" stroke-width="0.3">0.5</text>
<path d="M499.90 348.73H504.6" stroke="#0a0a0a" stroke-width="1.4"/>
<text transform="translate(500.00 352.28) rotate(0.3)" font-family='"Liberation Sans", sans-serif' font-weight="bold" font-size="9.0" text-anchor="end" fill="#111" stroke="#111" stroke-width="0.3">1.0</text>
<path d="M499.90 309.00H504.6" stroke="#0a0a0a" stroke-width="1.4"/>
<text transform="translate(500.00 312.55) rotate(0.3)" font-family='"Liberation Sans", sans-serif' font-weight="bold" font-size="9.0" text-anchor="end" fill="#111" stroke="#111" stroke-width="0.3">1.5</text>
<path d="M534.55 428.2V432.70" stroke="#0a0a0a" stroke-width="1.4"/>
<text transform="translate(534.55 441.75) rotate(0.3)" font-family='"Liberation Sans", sans-serif' font-weight="bold" font-size="9.2" text-anchor="middle" fill="#111" stroke="#111" stroke-width="0.3">0</text>
<path d="M594.00 428.2V432.70" stroke="#0a0a0a" stroke-width="1.4"/>
<text transform="translate(594.00 441.75) rotate(0.3)" font-family='"Liberation Sans", sans-serif' font-weight="bold" font-size="9.2" text-anchor="middle" fill="#111" stroke="#111" stroke-width="0.3">2</text>
<path d="M653.80 428.2V432.70" stroke="#0a0a0a" stroke-width="1.4"/>
<text transform="translate(653.80 441.75) rotate(0.3)" font-family='"Liberation Sans", sans-serif' font-weight="bold" font-size="9.2" text-anchor="middle" fill="#111" stroke="#111" stroke-width="0.3">4</text>
<text transform="translate(654.5 354.95) rotate(0.3)" font-family='"Liberation Sans", sans-serif' font-weight="bold" font-size="8.5" text-anchor="middle" fill="#111" stroke="#111" stroke-width="0.2">*</text>
<text transform="translate(475.2 368.6) rotate(-90)" font-family='"Liberation Serif", serif' font-weight="bold" font-size="9.5" text-anchor="middle" fill="#111" stroke="#111" stroke-width="0.25"><tspan font-style="italic">α</tspan>-SMA/β-tubulin ratio</text>
</g>
</svg>
</body></html>
